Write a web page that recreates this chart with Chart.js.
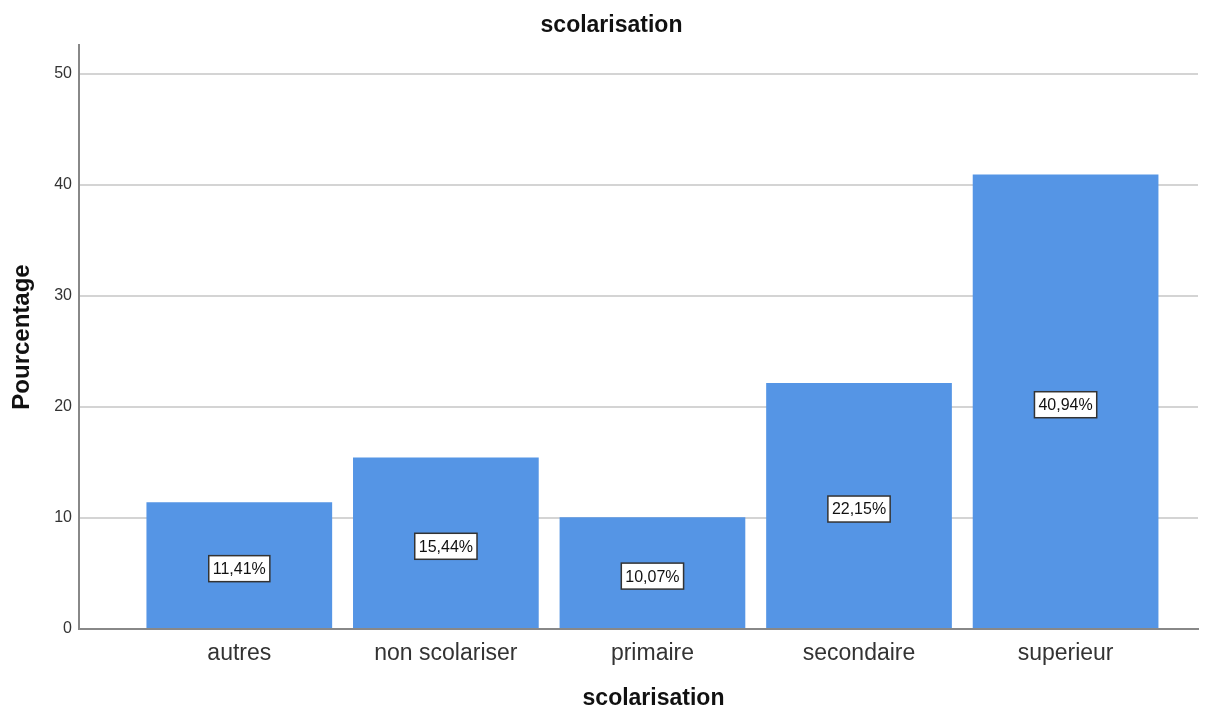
<!DOCTYPE html>
<html>
<head>
<meta charset="utf-8">
<script src="https://cdn.jsdelivr.net/npm/chart.js@4.4.1/dist/chart.umd.min.js"></script>
<style>
  html, body { margin: 0; padding: 0; background: #ffffff; }
  #wrap { width: 1213px; height: 710px; }
</style>
</head>
<body>
<div id="wrap"><canvas id="c" width="1213" height="710"></canvas></div>
<script>
const categories = ['autres', 'non scolariser', 'primaire', 'secondaire', 'superieur'];
const pourcentages = [11.41, 15.44, 10.07, 22.15, 40.94];
const yTicks = [0, 10, 20, 30, 40, 50];
const chartTitle = 'scolarisation';
const xTitle = 'scolarisation';
const yTitle = 'Pourcentage';

const FONT = '"Liberation Sans", Arial, sans-serif';

// value labels: boxed percentage at the middle of each bar
const barLabels = {
  id: 'barLabels',
  afterDatasetsDraw(chart) {
    const ctx = chart.ctx;
    const meta = chart.getDatasetMeta(0);
    const yScale = chart.scales.y;
    ctx.save();
    ctx.font = '16px ' + FONT;
    ctx.textAlign = 'center';
    ctx.textBaseline = 'middle';
    meta.data.forEach((bar, i) => {
      const v = pourcentages[i];
      const txt = v.toFixed(2).replace('.', ',') + '%';
      const cx = bar.x;
      const cy = yScale.getPixelForValue(v / 2) + 3;
      const w = ctx.measureText(txt).width + 8;
      const h = 26;
      ctx.fillStyle = '#ffffff';
      ctx.fillRect(cx - w / 2, cy - h / 2, w, h);
      ctx.lineWidth = 1.5;
      ctx.strokeStyle = '#333333';
      ctx.strokeRect(cx - w / 2, cy - h / 2, w, h);
      ctx.fillStyle = '#111111';
      ctx.fillText(txt, cx, cy + 1);
    });
    ctx.restore();
  }
};

// chart title above the plot and axis title below the category labels
const titles = {
  id: 'titles',
  afterDraw(chart) {
    const ctx = chart.ctx;
    const area = chart.chartArea;
    ctx.save();
    ctx.fillStyle = '#111111';
    ctx.font = 'bold 23px ' + FONT;
    ctx.textAlign = 'center';
    ctx.textBaseline = 'middle';
    ctx.fillText(chartTitle, chart.width / 2 + 5, 26);
    ctx.fillText(xTitle, (area.left + area.right) / 2 + 15, 699);
    ctx.restore();
  }
};

new Chart(document.getElementById('c'), {
  type: 'bar',
  data: {
    datasets: [{
      data: pourcentages.map((v, i) => ({ x: i, y: v })),
      backgroundColor: '#5595e5',
      borderWidth: 0,
      barPercentage: 0.899,
      categoryPercentage: 1.0
    }]
  },
  options: {
    responsive: false,
    animation: false,
    devicePixelRatio: 1,
    layout: { padding: { left: 0, right: 15, top: 45, bottom: 0 } },
    plugins: {
      legend: { display: false },
      tooltip: { enabled: false },
      title: { display: false }
    },
    scales: {
      x: {
        type: 'linear',
        min: -0.776,
        max: 4.641,
        offset: false,
        afterBuildTicks(scale) {
          scale.ticks = categories.map((_, i) => ({ value: i }));
        },
        afterFit(scale) { scale.height = 81; },
        grid: { display: false, drawTicks: false },
        border: { display: true, color: '#888888', width: 2 },
        ticks: {
          autoSkip: false,
          maxRotation: 0,
          padding: 11,
          color: '#333333',
          font: { family: FONT, size: 23 },
          callback: (v) => categories[v] ?? ''
        },
        title: { display: false }
      },
      y: {
        min: 0,
        max: 52.6,
        afterBuildTicks(scale) {
          scale.ticks = yTicks.map(v => ({ value: v }));
        },
        afterFit(scale) { scale.width = 79; },
        grid: {
          drawTicks: false,
          color: (c) => c.tick && c.tick.value === 0 ? 'rgba(0,0,0,0)' : '#d4d4d4',
          lineWidth: 2
        },
        border: { display: true, color: '#888888', width: 2 },
        ticks: {
          padding: 7,
          color: '#333333',
          font: { family: FONT, size: 16 }
        },
        title: {
          display: true,
          text: yTitle,
          color: '#111111',
          font: { family: FONT, size: 24, weight: 'bold', lineHeight: 1.1 },
          padding: { top: 9, bottom: 0 }
        }
      }
    }
  },
  plugins: [barLabels, titles]
});
</script>
</body>
</html>
